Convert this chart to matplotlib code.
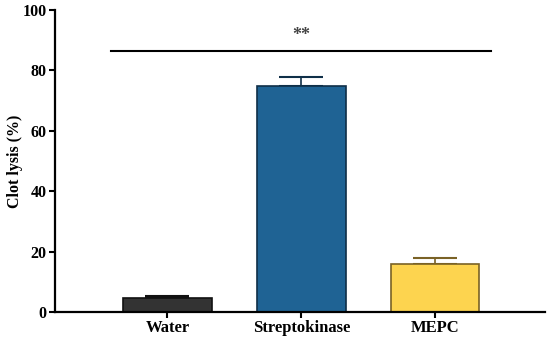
import matplotlib
matplotlib.use("Agg")
import matplotlib.pyplot as plt

categories = ["Water", "Streptokinase", "MEPC"]
means = [4.6, 74.8, 15.9]
errors = [0.8, 2.9, 2.0]
y_ticks = [0, 20, 40, 60, 80, 100]
sig_level = 86.5
sig_label = "**"

face_colors = ["#333333", "#1f6394", "#fdd44f"]
edge_colors = ["#111111", "#0f2f48", "#7a6226"]

plt.rcParams['font.family'] = ['Liberation Serif', 'DejaVu Serif']
plt.rcParams['font.weight'] = 'bold'

fig = plt.figure(figsize=(5.5, 3.42), dpi=100)
ax = fig.add_axes([0.1, 0.0877, 0.891, 0.883])

x = list(range(len(categories)))
for i in x:
    ax.bar(i, means[i], width=0.66, color=face_colors[i], edgecolor=edge_colors[i],
           linewidth=1.2, zorder=2)
    ax.errorbar(i, means[i], yerr=[[0], [errors[i]]], fmt='none', ecolor=edge_colors[i],
                elinewidth=1.2, capsize=16, capthick=1.5, zorder=1)

ax.plot([-0.42, 2.42], [sig_level, sig_level], color='black', lw=1.5)
ax.text(1, sig_level + 2.2, sig_label, ha='center', va='bottom', fontsize=13, color='#444444')

ax.set_xlim(-0.84, 2.82)
ax.set_ylim(0, 100)
ax.set_yticks(y_ticks)
ax.set_xticks(x)
ax.set_xticklabels(categories, fontsize=12, fontweight='bold')
ax.set_yticklabels([str(v) for v in y_ticks], fontsize=11.5, fontweight='bold')
ax.set_ylabel("Clot lysis (%)", fontsize=11.5, fontweight='bold', labelpad=0)

for s in ['top', 'right']:
    ax.spines[s].set_visible(False)
for s in ['left', 'bottom']:
    ax.spines[s].set_linewidth(1.6)
ax.tick_params(axis='both', width=1.5, length=4, pad=2)

fig.savefig("out.png", dpi=100)
